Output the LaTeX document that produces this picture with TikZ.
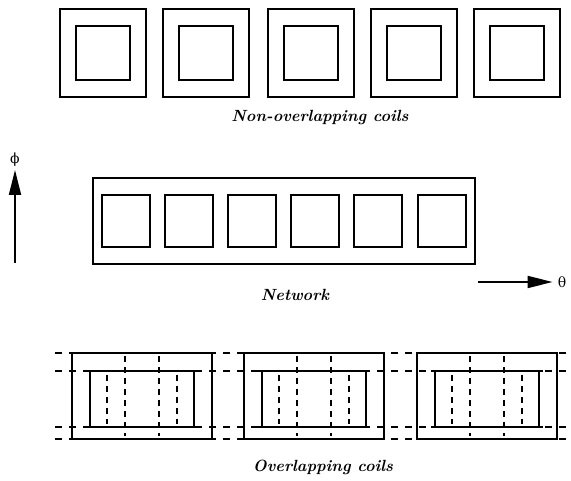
\documentclass[tikz,border=0pt]{standalone}
\usepackage{fontspec}
\newfontfamily\grk{DejaVu Serif}
\usetikzlibrary{arrows.meta}
\tikzset{
  outerbox/.style={draw=black,line width=2.1pt},
  innerbox/.style={draw=black,line width=2.5pt},
  hdash/.style={draw=black,line width=2.1pt,dash pattern=on 7pt off 7pt},
  vdash/.style={draw=black,line width=2.1pt,dash pattern=on 6pt off 5pt},
  caption/.style={font=\fontsize{16.2}{19}\selectfont\bfseries\itshape,inner sep=0pt},
  axis/.style={draw=black,line width=1.8pt,-{Triangle[length=25pt,width=12pt]}},
  glabel/.style={font=\grk\fontsize{14}{16}\selectfont,inner sep=0pt}
}
\begin{document}
\begin{tikzpicture}[x=1pt,y=-1pt]
\useasboundingbox (0,0) rectangle (571,481);
% --- Non-overlapping coils ---
\foreach \c in {103,206,311,414,517}{
  \draw[outerbox] (\c-43,9) rectangle (\c+43,97);
  \draw[innerbox] (\c-27,26) rectangle (\c+27,80);
}
\node[caption] (lab1) at (320,118) {Non-overlapping coils};
% --- Network ---
\draw[outerbox] (93,178) rectangle (475,264);
\foreach \s in {102,165,228,291,354,418}{
  \draw[innerbox] (\s,195) rectangle (\s+48,247);
}
\node[caption] (lab2) at (295,295) {Network};
% --- axes ---
\node[glabel] (phi) at (15,160) {ϕ};
\coordinate (phibase) at (15,263);
\draw[axis] (phibase) -- ([yshift=-3pt]phi.south);
\node[glabel] (theta) at (562,282) {θ};
\coordinate (thetabase) at (478,282);
\draw[axis] (thetabase) -- ([xshift=-5pt]theta.west);
% --- Overlapping coils ---
\foreach \y in {353,371,427,439}{
  \draw[hdash] (55,\y) -- (571,\y);
}
\foreach \c in {142,314,487}{
  \draw[outerbox] (\c-70,353) rectangle (\c+70,439);
  \draw[innerbox] (\c-56,371) -- (\c+56,371);
  \draw[innerbox] (\c-56,427) -- (\c+56,427);
  \draw[innerbox] (\c-52,371) -- (\c-52,427);
  \draw[innerbox] (\c+52,371) -- (\c+52,427);
  \draw[vdash] (\c-17,356) -- (\c-17,436);
  \draw[vdash] (\c+17,356) -- (\c+17,436);
  \draw[vdash] (\c-35,375) -- (\c-35,424);
  \draw[vdash] (\c+35,375) -- (\c+35,424);
}
\node[caption] (lab3) at (323,467) {Overlapping coils};
\end{tikzpicture}
\end{document}
